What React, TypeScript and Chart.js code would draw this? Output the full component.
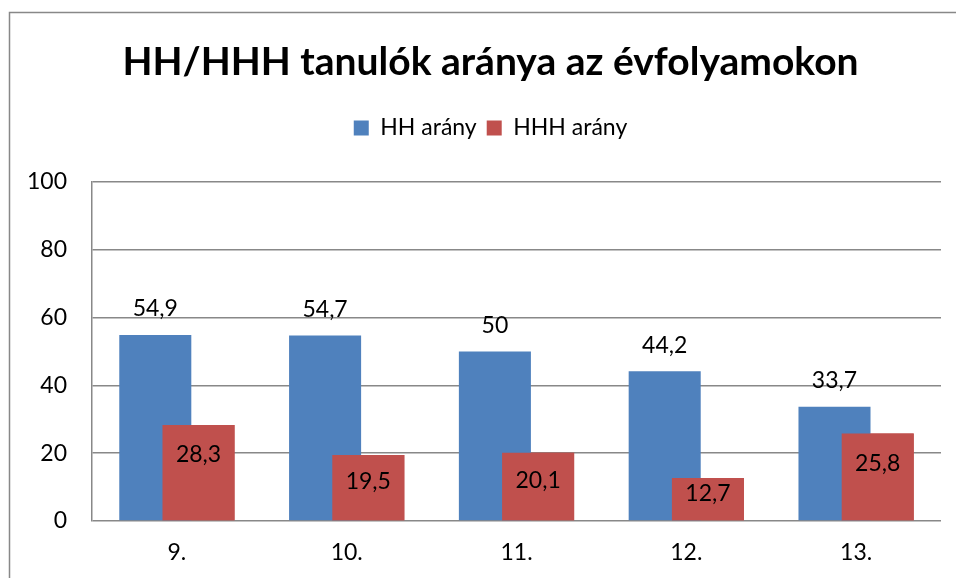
import React, { useEffect, useRef } from "react";
import { Chart, registerables } from "chart.js";

Chart.register(...registerables);

const categories = ["9.", "10.", "11.", "12.", "13."];
const hhValues = [54.9, 54.7, 50, 44.2, 33.7];
const hhhValues = [28.3, 19.5, 20.1, 12.7, 25.8];
const seriesNames = ["HH arány", "HHH arány"];
const yTicks = [0, 20, 40, 60, 80, 100];
const titleText = "HH/HHH tanulók aránya az évfolyamokon";

const FONT = "Lato, 'Open Sans', sans-serif";
const GRID = "#888888";
const TXT = 23;

const fmt = (v: number) => String(v).replace(".", ",");

const framePlugin = {
  id: "frame",
  beforeDraw(chart: any) {
    const ctx = chart.ctx;
    ctx.save();
    ctx.fillStyle = "#ffffff";
    ctx.fillRect(0, 0, chart.width, chart.height);
    ctx.strokeStyle = GRID;
    ctx.lineWidth = 1.5;
    ctx.beginPath();
    ctx.moveTo(9.5, chart.height);
    ctx.lineTo(9.5, 12.5);
    ctx.lineTo(chart.width, 12.5);
    ctx.stroke();
    ctx.restore();
  },
};

const legendSpacePlugin = {
  id: "legendSpace",
  beforeLayout(chart: any) {
    const lg = chart.legend;
    if (lg && !lg.__patched) {
      const orig = lg.fit.bind(lg);
      lg.fit = function () {
        orig();
        this.height += 32.5;
      };
      lg.__patched = true;
    }
  },
  afterLayout(chart: any) {
    // centre title and legend slightly right, as in the original
    const shift = 10;
    [chart.titleBlock, chart.legend].forEach((b: any) => {
      if (b) {
        b.left += shift;
        b.right += shift;
      }
    });
  },
};

const labelsPlugin = {
  id: "valueLabels",
  afterDatasetsDraw(chart: any) {
    const ctx = chart.ctx;
    // HHH bars drawn in front of HH bars
    const m1 = chart.getDatasetMeta(1);
    if (m1 && m1.controller) m1.controller.draw();
    ctx.save();
    ctx.font = `${TXT}px ${FONT}`;
    ctx.fillStyle = "#000";
    ctx.textAlign = "center";
    ctx.textBaseline = "middle";
    const m0 = chart.getDatasetMeta(0);
    m0.data.forEach((bar: any, i: number) => {
      ctx.fillText(fmt(hhValues[i]), bar.x, bar.y - 26);
    });
    m1.data.forEach((bar: any, i: number) => {
      const top = bar.y;
      const bottom = bar.base;
      const y = Math.min(top + 30, (top + bottom) / 2 - 6);
      ctx.fillText(fmt(hhhValues[i]), bar.x, y);
    });
    ctx.restore();
  },
};

export default function App() {
  const ref = useRef<HTMLCanvasElement | null>(null);
  useEffect(() => {
    if (!ref.current) return;
    const chart = new Chart(ref.current, {
      type: "bar",
      data: {
        labels: categories,
        datasets: [
          {
            label: seriesNames[0],
            data: hhValues,
            backgroundColor: "#4F81BD",
            borderWidth: 0,
            categoryPercentage: 0.509,
            barPercentage: 1.667,
          },
          {
            label: seriesNames[1],
            data: hhhValues,
            backgroundColor: "#C0504D",
            borderWidth: 0,
            categoryPercentage: 0.509,
            barPercentage: 1.667,
          },
        ],
      },
      options: {
        animation: false,
        responsive: true,
        maintainAspectRatio: false,
        layout: { padding: { top: 0, left: 20, right: 15, bottom: 0 } },
        plugins: {
          tooltip: { enabled: false },
          title: {
            display: true,
            text: titleText,
            color: "#000",
            font: { family: FONT, size: 39, weight: "bold" },
            padding: { top: 38.6, bottom: 21.1 },
          },
          legend: {
            display: true,
            position: "top",
            labels: {
              boxWidth: 15,
              boxHeight: 15,
              color: "#000",
              font: { family: FONT, size: TXT },
              padding: 10,
            },
          },
        },
        scales: {
          x: {
            grid: { display: false },
            border: { display: false },
            ticks: { color: "#000", font: { family: FONT, size: TXT }, padding: 10 },
            afterFit(scale: any) {
              scale.height = 57;
            },
          },
          y: {
            min: 0,
            max: 100,
            afterBuildTicks(scale: any) {
              scale.ticks = yTicks.map((v) => ({ value: v }));
            },
            grid: { color: GRID, lineWidth: 1.5, drawTicks: false },
            border: { display: true, color: GRID, width: 1.5 },
            ticks: { color: "#000", font: { family: FONT, size: TXT }, padding: 25 },
            afterFit(scale: any) {
              scale.width = 72;
            },
          },
        },
      },
      plugins: [framePlugin, legendSpacePlugin, labelsPlugin],
    } as any);
    return () => chart.destroy();
  }, []);
  return (
    <div style={{ position: "fixed", left: 0, top: 0, width: 956, height: 578, background: "#fff" }}>
      <canvas ref={ref} />
    </div>
  );
}
